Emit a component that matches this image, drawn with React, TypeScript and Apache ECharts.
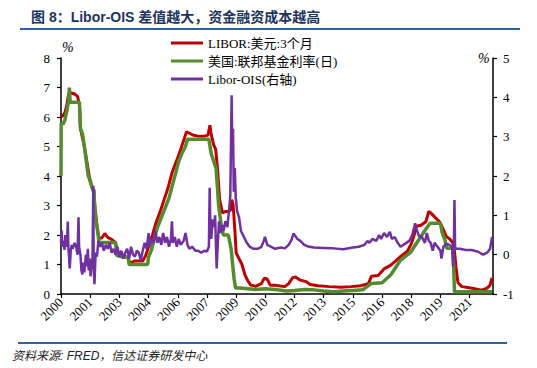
import React, { useEffect, useRef } from "react";
import * as echarts from "echarts";

// [year, value] pairs
const liborUSD3M: [number, number][] = [
  [2000.0, 6.0], [2000.1, 6.05], [2000.2, 6.15], [2000.3, 6.4], [2000.38, 6.75], [2000.5, 6.82],
  [2000.7, 6.78], [2000.85, 6.7], [2000.95, 6.4], [2001.0, 5.6], [2001.1, 5.3], [2001.2, 5.0],
  [2001.3, 4.6], [2001.4, 4.2], [2001.5, 3.8], [2001.6, 3.6], [2001.7, 3.4], [2001.75, 2.9],
  [2001.85, 2.3], [2001.95, 1.9], [2002.1, 1.9], [2002.25, 2.05], [2002.4, 1.92], [2002.6, 1.85],
  [2002.8, 1.75], [2002.9, 1.4], [2003.1, 1.3], [2003.3, 1.28], [2003.45, 1.2], [2003.55, 1.05],
  [2003.8, 1.12], [2004.0, 1.12], [2004.2, 1.12], [2004.35, 1.3], [2004.5, 1.6], [2004.7, 2.0],
  [2004.9, 2.45], [2005.1, 2.8], [2005.3, 3.2], [2005.5, 3.6], [2005.7, 4.1], [2005.9, 4.45],
  [2006.1, 4.8], [2006.25, 5.1], [2006.45, 5.5], [2006.6, 5.45], [2006.8, 5.38], [2007.0, 5.36],
  [2007.2, 5.35], [2007.4, 5.36], [2007.55, 5.38], [2007.65, 5.72], [2007.72, 5.4], [2007.85, 5.05],
  [2007.95, 4.9], [2008.05, 4.2], [2008.15, 3.2], [2008.3, 2.75], [2008.45, 2.8], [2008.6, 2.8],
  [2008.72, 2.85], [2008.78, 3.2], [2008.85, 3.0], [2008.95, 2.0], [2009.0, 1.4], [2009.15, 1.2],
  [2009.3, 1.0], [2009.45, 0.65], [2009.6, 0.45], [2009.75, 0.3], [2010.0, 0.26], [2010.3, 0.35],
  [2010.45, 0.54], [2010.6, 0.5], [2010.75, 0.3], [2011.0, 0.3], [2011.5, 0.25], [2011.7, 0.35],
  [2011.9, 0.55], [2012.05, 0.58], [2012.3, 0.47], [2012.6, 0.42], [2012.8, 0.32], [2013.2, 0.28],
  [2013.8, 0.25], [2014.4, 0.23], [2014.9, 0.25], [2015.4, 0.28], [2015.8, 0.35], [2015.95, 0.6],
  [2016.3, 0.63], [2016.6, 0.85], [2016.95, 0.98], [2017.2, 1.12], [2017.5, 1.3], [2017.8, 1.45],
  [2018.0, 1.7], [2018.15, 2.0], [2018.25, 2.3], [2018.5, 2.33], [2018.75, 2.45], [2018.9, 2.8],
  [2019.0, 2.75], [2019.25, 2.58], [2019.45, 2.45], [2019.6, 2.25], [2019.8, 1.95], [2020.0, 1.85],
  [2020.15, 1.72], [2020.22, 1.45], [2020.3, 0.9], [2020.4, 0.38], [2020.6, 0.25], [2020.9, 0.22],
  [2021.2, 0.19], [2021.6, 0.13], [2021.9, 0.2], [2022.05, 0.3], [2022.15, 0.55],
];

const fedFunds: [number, number][] = [
  [2000.0, 4.0], [2000.01, 5.8], [2000.1, 5.75], [2000.2, 5.9], [2000.3, 6.2], [2000.38, 6.5],
  [2000.43, 7.0], [2000.47, 6.5], [2000.6, 6.5], [2000.8, 6.5], [2000.95, 6.5], [2001.0, 5.6],
  [2001.1, 5.45], [2001.2, 5.0], [2001.3, 4.5], [2001.4, 4.0], [2001.5, 3.85], [2001.6, 3.6],
  [2001.7, 3.5], [2001.72, 3.0], [2001.8, 2.5], [2001.9, 2.05], [2001.95, 1.75], [2002.2, 1.75],
  [2002.5, 1.75], [2002.8, 1.75], [2002.87, 1.3], [2003.2, 1.25], [2003.45, 1.25], [2003.5, 1.0],
  [2003.8, 1.0], [2004.2, 1.0], [2004.45, 1.0], [2004.5, 1.25], [2004.65, 1.5], [2004.75, 1.75],
  [2004.85, 2.0], [2004.95, 2.25], [2005.1, 2.5], [2005.25, 2.75], [2005.4, 3.0], [2005.55, 3.25],
  [2005.65, 3.5], [2005.75, 3.75], [2005.85, 4.0], [2006.05, 4.5], [2006.2, 4.75], [2006.4, 5.0],
  [2006.5, 5.25], [2007.0, 5.25], [2007.6, 5.25], [2007.72, 4.75], [2007.85, 4.5], [2007.97, 4.25],
  [2008.05, 3.5], [2008.1, 3.0], [2008.25, 2.25], [2008.35, 2.0], [2008.6, 2.0], [2008.75, 1.5],
  [2008.82, 1.0], [2008.9, 0.5], [2008.97, 0.2], [2009.2, 0.2], [2010.0, 0.15], [2010.5, 0.18],
  [2011.0, 0.15], [2011.6, 0.1], [2012.0, 0.12], [2012.5, 0.15], [2013.0, 0.14], [2013.5, 0.1],
  [2014.0, 0.08], [2014.5, 0.1], [2015.0, 0.12], [2015.5, 0.14], [2015.95, 0.36], [2016.5, 0.38],
  [2016.95, 0.65], [2017.2, 0.9], [2017.45, 1.15], [2017.95, 1.4], [2018.2, 1.65], [2018.45, 1.9],
  [2018.7, 2.15], [2018.97, 2.4], [2019.5, 2.4], [2019.58, 2.1], [2019.72, 1.85], [2019.83, 1.55],
  [2020.15, 1.55], [2020.17, 1.1], [2020.22, 0.08], [2021.0, 0.08], [2021.5, 0.08], [2022.15, 0.08],
];

const liborOis: [number, number][] = [
  [2000.0, 0.3], [2000.03, 0.62], [2000.07, 0.2], [2000.12, 0.35], [2000.18, 0.12], [2000.22, 0.5],
  [2000.25, 0.3], [2000.3, 0.2], [2000.35, 0.84], [2000.38, 0.15], [2000.42, -0.1], [2000.45, -0.35],
  [2000.5, 0.1], [2000.55, 0.25], [2000.6, 0.15], [2000.7, 0.3], [2000.78, 0.2], [2000.85, 0.0],
  [2000.9, 0.95], [2000.93, 0.2], [2001.0, 0.0], [2001.05, -0.4], [2001.1, -0.5], [2001.15, -0.2],
  [2001.2, -0.45], [2001.28, 0.0], [2001.32, -0.3], [2001.38, 0.15], [2001.42, -0.4], [2001.48, -0.1],
  [2001.52, -0.55], [2001.58, -0.2], [2001.62, -0.1], [2001.66, 1.75], [2001.68, -0.3], [2001.72, -0.75],
  [2001.78, 0.05], [2001.85, -0.05], [2001.92, 0.35], [2002.0, 0.2], [2002.1, 0.3], [2002.2, 0.1],
  [2002.3, 0.25], [2002.4, 0.15], [2002.5, 0.3], [2002.6, 0.05], [2002.7, 0.15], [2002.8, 0.0],
  [2002.9, 0.2], [2003.0, -0.05], [2003.1, 0.1], [2003.2, -0.1], [2003.3, 0.05], [2003.4, 0.15],
  [2003.5, -0.1], [2003.6, 0.2], [2003.7, 0.0], [2003.8, -0.05], [2003.9, 0.1], [2004.0, 0.05],
  [2004.1, -0.15], [2004.2, 0.1], [2004.3, 0.3], [2004.4, 0.15], [2004.5, 0.55], [2004.55, 0.2],
  [2004.65, 0.4], [2004.75, 0.3], [2004.85, 0.6], [2004.95, 0.3], [2005.05, 0.45], [2005.15, 0.25],
  [2005.25, 0.55], [2005.35, 0.3], [2005.45, 0.45], [2005.55, 0.2], [2005.65, 0.4], [2005.7, 0.85],
  [2005.75, 0.3], [2005.85, 0.45], [2005.95, 0.2], [2006.05, 0.4], [2006.15, 0.25], [2006.3, 0.35],
  [2006.4, 0.55], [2006.5, 0.25], [2006.6, 0.15], [2006.75, 0.2], [2006.9, 0.1], [2007.05, 0.1],
  [2007.2, 0.05], [2007.35, 0.1], [2007.5, 0.08], [2007.6, 0.2], [2007.64, 1.7], [2007.68, 0.6],
  [2007.72, 0.4], [2007.8, 0.9], [2007.87, 0.7], [2007.92, 1.0], [2007.96, 0.3], [2008.0, -0.35],
  [2008.05, 0.2], [2008.12, 0.85], [2008.2, 0.55], [2008.28, 0.75], [2008.35, 0.6], [2008.45, 0.85],
  [2008.55, 0.7], [2008.65, 1.2], [2008.7, 1.5], [2008.74, 3.0], [2008.77, 4.05], [2008.8, 2.6],
  [2008.84, 3.2], [2008.88, 1.6], [2008.93, 2.2], [2008.98, 1.45], [2009.05, 1.1], [2009.15, 0.95],
  [2009.25, 0.6], [2009.4, 0.45], [2009.55, 0.3], [2009.7, 0.2], [2009.9, 0.15], [2010.1, 0.15],
  [2010.3, 0.2], [2010.42, 0.35], [2010.48, 0.45], [2010.6, 0.25], [2010.8, 0.2], [2011.0, 0.15],
  [2011.3, 0.18], [2011.5, 0.16], [2011.7, 0.25], [2011.85, 0.38], [2011.95, 0.54], [2012.15, 0.4],
  [2012.3, 0.35], [2012.5, 0.25], [2012.75, 0.2], [2013.0, 0.18], [2013.5, 0.17], [2014.0, 0.16],
  [2014.5, 0.14], [2015.0, 0.18], [2015.3, 0.2], [2015.6, 0.25], [2015.75, 0.35], [2015.85, 0.3],
  [2016.0, 0.4], [2016.2, 0.35], [2016.35, 0.5], [2016.45, 0.4], [2016.6, 0.55], [2016.75, 0.45],
  [2016.9, 0.58], [2017.0, 0.4], [2017.15, 0.45], [2017.3, 0.3], [2017.45, 0.2], [2017.6, 0.25],
  [2017.75, 0.3], [2017.9, 0.35], [2018.05, 0.5], [2018.2, 0.8], [2018.3, 0.6], [2018.4, 0.47],
  [2018.55, 0.45], [2018.7, 0.3], [2018.8, 0.55], [2018.9, 0.35], [2019.0, 0.3], [2019.1, 0.1],
  [2019.2, 0.3], [2019.35, 0.2], [2019.5, 0.1], [2019.55, -0.1], [2019.65, 0.2], [2019.8, 0.28],
  [2019.95, 0.25], [2020.1, 0.2], [2020.15, -0.3], [2020.18, -0.1], [2020.22, 1.39], [2020.25, 0.2],
  [2020.3, 0.15], [2020.5, 0.15], [2020.8, 0.12], [2021.1, 0.12], [2021.4, 0.08], [2021.7, 0.0],
  [2021.9, 0.05], [2022.05, 0.15], [2022.15, 0.45],
];

const seriesNames = ["LIBOR:美元:3个月", "美国:联邦基金利率(日)", "Libor-OIS(右轴)"];
const seriesColors = ["#c00000", "#558b2f", "#7030a0"];

const titleText = "图 8：Libor-OIS 差值越大，资金融资成本越高";
const sourceText = "资料来源: FRED，信达证券研发中心";

const serif = "'Liberation Serif', 'Times New Roman', 'Noto Sans CJK SC', serif";

export default function App() {
  const ref = useRef<HTMLDivElement>(null);
  useEffect(() => {
    if (!ref.current) return;
    const chart = echarts.init(ref.current, undefined, { renderer: "svg" });
    const axisLabelStyle = { color: "#000", fontFamily: serif, fontSize: 13 };
    chart.setOption({
      animation: false,
      backgroundColor: "#fff",
      grid: { left: 61, right: 44, top: 58, bottom: 74, containLabel: false },
      legend: {
        orient: "vertical",
        left: 166,
        top: 31,
        itemWidth: 32,
        itemHeight: 3,
        itemGap: 4,
        icon: "rect",
        textStyle: { color: "#000", fontFamily: serif, fontSize: 13, lineHeight: 14 },
        data: seriesNames,
      },
      xAxis: {
        type: "value",
        min: 2000,
        max: 2022.2,
        interval: 1.5,
        splitLine: { show: false },
        axisLine: { lineStyle: { color: "#000", width: 1.5 } },
        axisTick: { lineStyle: { color: "#000", width: 1.2 }, length: 4 },
        axisLabel: {
          ...axisLabelStyle,
          fontSize: 13,
          rotate: 45,
          margin: 6,
          showMaxLabel: false,
          formatter: (v: number) => String(Math.floor(v)),
        },
      },
      yAxis: [
        {
          type: "value",
          min: 0,
          max: 8,
          interval: 1,
          splitLine: { show: false },
          axisLine: { show: true, lineStyle: { color: "#000", width: 1.5 } },
          axisTick: { show: true, length: 4, lineStyle: { color: "#000", width: 1.2 } },
          axisLabel: { ...axisLabelStyle, margin: 11 },
        },
        {
          type: "value",
          min: -1,
          max: 5,
          interval: 1,
          position: "right",
          splitLine: { show: false },
          axisLine: { show: true, lineStyle: { color: "#000", width: 1.5 } },
          axisTick: { show: true, length: 4, lineStyle: { color: "#000", width: 1.2 } },
          axisLabel: { ...axisLabelStyle, margin: 10 },
        },
      ],
      series: [
        {
          name: seriesNames[0],
          type: "line",
          data: liborUSD3M,
          yAxisIndex: 0,
          showSymbol: false,
          symbol: "none",
          lineStyle: { color: seriesColors[0], width: 3 },
          itemStyle: { color: seriesColors[0] },
        },
        {
          name: seriesNames[1],
          type: "line",
          data: fedFunds,
          yAxisIndex: 0,
          showSymbol: false,
          symbol: "none",
          lineStyle: { color: seriesColors[1], width: 3.5 },
          itemStyle: { color: seriesColors[1] },
        },
        {
          name: seriesNames[2],
          type: "line",
          data: liborOis,
          yAxisIndex: 1,
          showSymbol: false,
          symbol: "none",
          lineStyle: { color: seriesColors[2], width: 2.5 },
          itemStyle: { color: seriesColors[2] },
        },
      ],
      graphic: [
        {
          type: "text",
          left: 31,
          top: 10,
          style: {
            text: titleText,
            font: "bold 14px 'Liberation Sans', 'Noto Sans CJK SC', sans-serif",
            fill: "#1c355e",
          },
        },
        {
          type: "line",
          shape: { x1: 20, y1: 29, x2: 520, y2: 29 },
          style: { stroke: "#2e62a0", lineWidth: 2 },
        },
        {
          type: "line",
          shape: { x1: 18, y1: 343, x2: 507, y2: 343 },
          style: { stroke: "#2e62a0", lineWidth: 2 },
        },
        {
          type: "text",
          left: 12,
          top: 350,
          style: {
            text: sourceText,
            font: "italic 12px 'Liberation Sans', 'Noto Sans CJK SC', sans-serif",
            fill: "#222",
          },
        },
        {
          type: "text",
          left: 62,
          top: 40,
          style: { text: "%", font: "italic 14px 'Liberation Serif', serif", fill: "#000" },
        },
        {
          type: "text",
          left: 478,
          top: 51,
          style: { text: "%", font: "italic 14px 'Liberation Serif', serif", fill: "#000" },
        },
      ],
    });
    return () => chart.dispose();
  }, []);
  return (
    <div
      ref={ref}
      style={{ position: "fixed", left: 0, top: 0, width: 537, height: 368, background: "#fff" }}
    />
  );
}
